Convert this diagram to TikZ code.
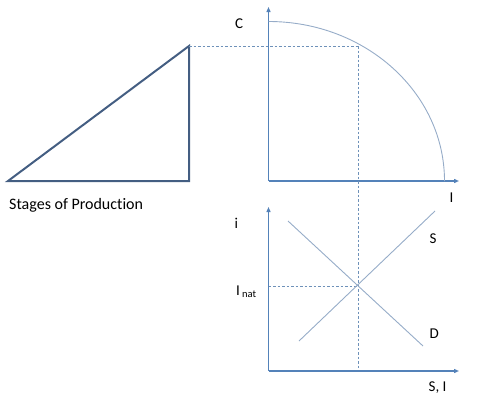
\documentclass[tikz,border=0pt]{standalone}
\usepackage{fontspec}
\setmainfont[Ligatures={NoCommon}]{Carlito}
\usetikzlibrary{arrows.meta}
\definecolor{tri}{RGB}{68,94,130}
\definecolor{axis}{RGB}{84,130,185}
\definecolor{thin}{RGB}{150,172,200}
\definecolor{dash}{RGB}{110,145,185}
\begin{document}
\begin{tikzpicture}[x=1pt,y=-1pt,
  axisline/.style={draw=axis,line width=1.5pt,-{Triangle[length=5pt,width=4pt]}},
  curveline/.style={draw=thin,line width=0.9pt},
  guideline/.style={draw=dash,line width=0.7pt,dash pattern=on 2.5pt off 2pt},
  lbl/.style={font=\fontsize{15}{17}\selectfont,inner sep=0pt,anchor=base west}]
\useasboundingbox (0,0) rectangle (479,407);
% triangle
\coordinate (tA) at (8,181);
\coordinate (tB) at (189,46);
\coordinate (tC) at (189,181);
\draw[tri,line width=2pt,line join=miter] (tA) -- (tB) -- (tC) -- cycle;
\node[lbl,font=\fontsize{16}{18}\selectfont] (stages) at (9,209) {Stages of Production};
% upper axes
\coordinate (o1) at (268.5,181);
\coordinate (y1) at (268.5,7);
\coordinate (x1) at (459,181);
\draw[axisline] (o1) -- (y1);
\draw[axisline] (o1) -- (x1);
\node[lbl] (C) at (235,28.7) {C};
\node[lbl] (I1) at (449.5,202.3) {I};
% PPF curve
\coordinate (cTop) at (268.5,21.5);
\draw[curveline] (cTop) arc[start angle=90,end angle=0,x radius=176,y radius=-159.5];
% guides
\coordinate (pPPF) at (358,46);
\coordinate (eq) at (358,286);
\coordinate (bot) at (358,369);
\coordinate (yeq) at (268.5,286);
\draw[guideline] (tB) -- (pPPF);
\draw[guideline] (pPPF) -- (bot);
\draw[guideline] (yeq) -- (eq);
% lower axes
\coordinate (o2) at (268.5,371);
\coordinate (y2) at (268.5,207);
\coordinate (x2) at (459,371);
\draw[axisline] (o2) -- (y2);
\draw[axisline] (o2) -- (x2);
% S and D lines
\coordinate (s1) at (299,341);
\coordinate (s2) at (435,211);
\coordinate (d1) at (288,221);
\coordinate (d2) at (423,346);
\draw[curveline] (s1) -- (s2);
\draw[curveline] (d1) -- (d2);
\node[lbl] (i) at (234.5,228.3) {i};
\node[lbl] (S) at (429.5,243.3) {S};
\node[lbl] (D) at (429.5,338) {D};
\node[lbl] (SI) at (428.5,391.7) {S, I};
\node[lbl] (Inat) at (236,295) {I};
\node[lbl,font=\fontsize{10.5}{12}\selectfont] (nat) at (242,297.5) {nat};
\end{tikzpicture}
\end{document}
